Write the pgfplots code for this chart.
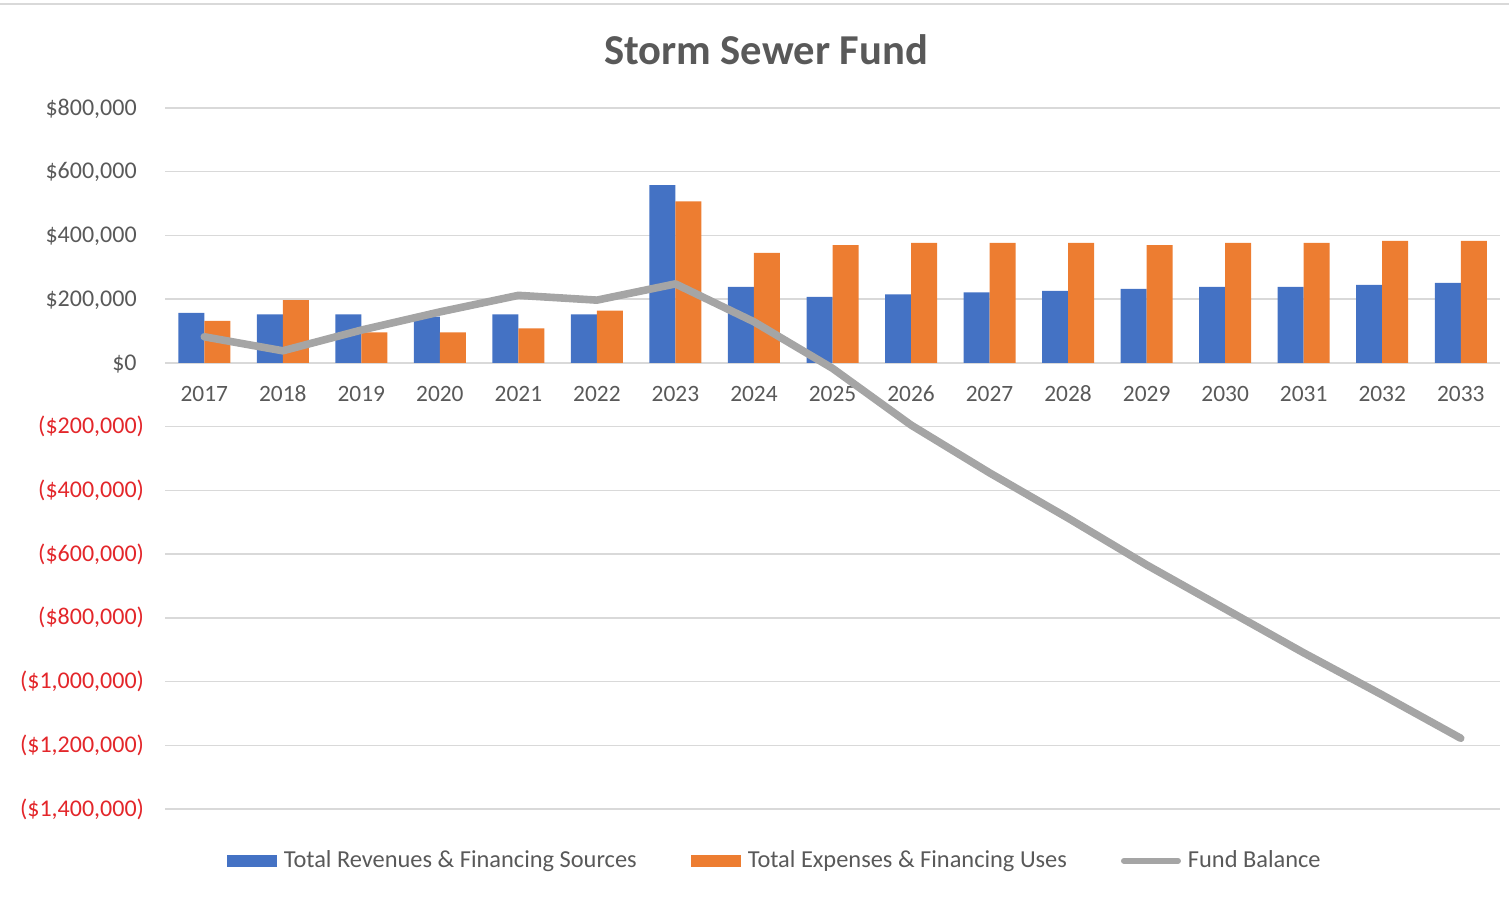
\documentclass[border=0pt]{standalone}
\usepackage{pgfplots}
\pgfplotsset{compat=1.18}
\usepackage{pgfplotstable}
\usepackage{fontspec}
\setmainfont{Carlito}
\definecolor{revblue}{HTML}{4472C4}
\definecolor{exporange}{HTML}{ED7D31}
\definecolor{fbgray}{HTML}{A5A5A5}
\definecolor{negred}{HTML}{E3262A}
\definecolor{txtgray}{HTML}{595959}
\definecolor{gridgray}{HTML}{D9D9D9}
\pgfplotstableread{
idx rev exp fb
0 157000 132000 82000
1 152000 197000 38000
2 152000 96000 103000
3 145000 96000 160000
4 152000 108000 212000
5 152000 164000 197000
6 558000 507000 248000
7 239000 345000 129000
8 207000 370000 -17000
9 215000 377000 -195000
10 221000 377000 -345000
11 226000 377000 -487000
12 232000 370000 -634000
13 239000 377000 -772000
14 239000 377000 -910000
15 245000 383000 -1042000
16 251000 383000 -1178000
}\fund
\begin{document}
\begin{tikzpicture}
\begin{axis}[
  scale only axis, width=667.5pt, height=350.5pt,
  at={(82.5pt,45.5pt)}, anchor=south west,
  xmin=-0.5, xmax=16.5, ymin=-1400000, ymax=800000,
  scaled y ticks=false,
  axis line style={draw=none},
  tick style={draw=none},
  ymajorgrids, grid style={gridgray, line width=0.7pt},
  ytick={-1400000,-1200000,-1000000,-800000,-600000,-400000,-200000,0,200000,400000,600000,800000},
  yticklabels={
    {\textcolor{negred}{(\$1,400,000)}},
    {\textcolor{negred}{(\$1,200,000)}},
    {\textcolor{negred}{(\$1,000,000)}},
    {\textcolor{negred}{(\$800,000)}},
    {\textcolor{negred}{(\$600,000)}},
    {\textcolor{negred}{(\$400,000)}},
    {\textcolor{negred}{(\$200,000)}},
    {\$0\phantom{)}},
    {\$200,000\phantom{)}},
    {\$400,000\phantom{)}},
    {\$600,000\phantom{)}},
    {\$800,000\phantom{)}}},
  yticklabel style={font=\fontsize{12}{14}\selectfont, text=txtgray, anchor=east, xshift=-7pt},
  xtick={0,...,16},
  xticklabels={2017,2018,2019,2020,2021,2022,2023,2024,2025,2026,2027,2028,2029,2030,2031,2032,2033},
  xticklabel style={font=\fontsize{11.7}{13}\selectfont, text=txtgray, anchor=center, yshift=207.5pt},
  legend columns=3,
  legend style={draw=none, fill=none, at={(0.4575,-0.074)}, anchor=center,
    font=\fontsize{12.2}{14}\selectfont, text=txtgray,
    /tikz/every odd column/.append style={column sep=1.5pt},
    /tikz/every even column/.append style={column sep=25pt}},
]
\addplot[ybar, bar width=13pt, bar shift=-6.5pt, draw=none, fill=revblue,
  legend image code/.code={\fill[revblue] (0pt,-3pt) rectangle (25pt,3pt);}]
  table[x=idx, y=rev] {\fund};
\addlegendentry{Total Revenues \& Financing Sources}
\addplot[ybar, bar width=13pt, bar shift=6.5pt, draw=none, fill=exporange,
  legend image code/.code={\fill[exporange] (0pt,-3pt) rectangle (25pt,3pt);}]
  table[x=idx, y=exp] {\fund};
\addlegendentry{Total Expenses \& Financing Uses}
\addplot[sharp plot, fbgray, line width=3.8pt, line join=round, line cap=round, mark=none,
  legend image code/.code={\draw[fbgray, line width=3pt] (0pt,0pt) -- (27pt,0pt);}]
  table[x=idx, y=fb] {\fund};
\addlegendentry{Fund Balance}
\end{axis}
\node[font=\bfseries\fontsize{21.3}{24}\selectfont, text=txtgray] at (383pt,425pt) {Storm Sewer Fund};
\draw[gridgray, line width=0.6pt] (0pt,448pt) -- (754.5pt,448pt);
\pgfresetboundingbox
\path (0pt,0pt) rectangle (754.5pt,450pt);
\end{tikzpicture}
\end{document}
